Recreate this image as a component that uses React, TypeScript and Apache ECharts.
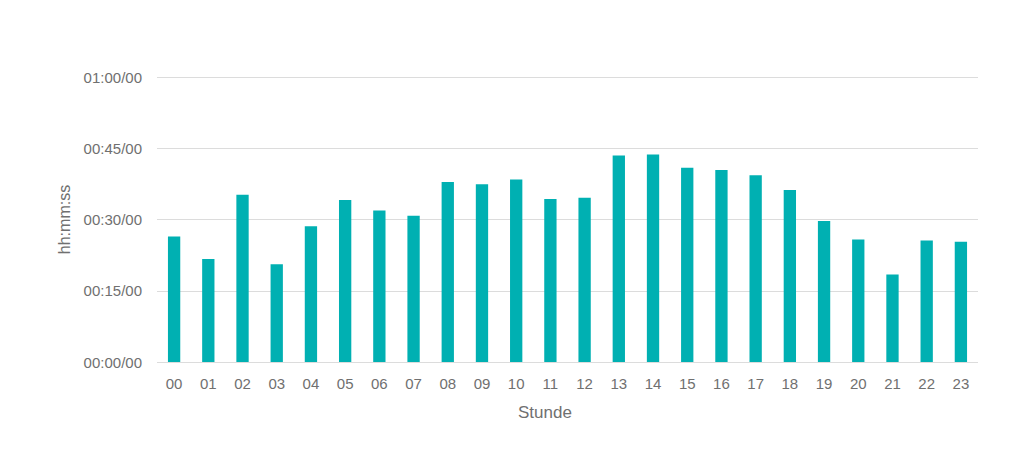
import React, { useRef, useEffect } from 'react';
import * as echarts from 'echarts';

// Hours of the day (x categories)
const HOURS = [
  '00', '01', '02', '03', '04', '05', '06', '07', '08', '09', '10', '11',
  '12', '13', '14', '15', '16', '17', '18', '19', '20', '21', '22', '23',
];

// Average duration per hour, in minutes
const DURATION_MIN = [
  26.4, 21.7, 35.2, 20.6, 28.6, 34.1, 31.9, 30.8, 37.9, 37.4, 38.4, 34.3,
  34.6, 43.5, 43.7, 40.9, 40.4, 39.3, 36.2, 29.7, 25.8, 18.4, 25.6, 25.3,
];

const Y_MIN = 0;
const Y_MAX = 60;
const Y_STEP = 15;

const BAR_COLOR = '#00b0b2';
const TEXT_COLOR = '#707070';
const FONT = '"Liberation Sans", Arial, sans-serif';

const pad = (n: number) => String(n).padStart(2, '0');
const fmtTime = (v: number) => `${pad(Math.floor(v / 60))}:${pad(Math.round(v % 60))}/00`;

export default function App() {
  const ref = useRef<HTMLDivElement>(null);

  useEffect(() => {
    if (!ref.current) return;
    const chart = echarts.init(ref.current, undefined, { renderer: 'svg' });
    chart.setOption({
      animation: false,
      backgroundColor: '#ffffff',
      textStyle: { fontFamily: FONT },
      grid: { left: 157, right: 46, top: 77, bottom: 106 },
      xAxis: {
        type: 'category',
        data: HOURS,
        axisLine: { show: false },
        axisTick: { show: false },
        axisLabel: { color: TEXT_COLOR, fontSize: 15, margin: 14, fontFamily: FONT },
      },
      yAxis: {
        type: 'value',
        min: Y_MIN,
        max: Y_MAX,
        interval: Y_STEP,
        name: 'hh:mm:ss',
        nameLocation: 'middle',
        nameGap: 79,
        nameTextStyle: { color: TEXT_COLOR, fontSize: 16, fontFamily: FONT },
        axisLine: { show: false },
        axisTick: { show: false },
        axisLabel: { color: TEXT_COLOR, fontSize: 15, margin: 15, fontFamily: FONT, formatter: fmtTime },
        splitLine: { lineStyle: { color: '#dcdcdc', width: 1 } },
      },
      graphic: [
        {
          type: 'text',
          left: 518,
          top: 404,
          style: { text: 'Stunde', fill: TEXT_COLOR, fontSize: 17, fontFamily: FONT },
        },
      ],
      series: [
        {
          type: 'bar',
          data: DURATION_MIN,
          barWidth: '36%',
          itemStyle: { color: BAR_COLOR },
        },
      ],
    });
    return () => chart.dispose();
  }, []);

  return (
    <div
      ref={ref}
      style={{ position: 'fixed', left: 0, top: 0, width: 1024, height: 468 }}
    />
  );
}
